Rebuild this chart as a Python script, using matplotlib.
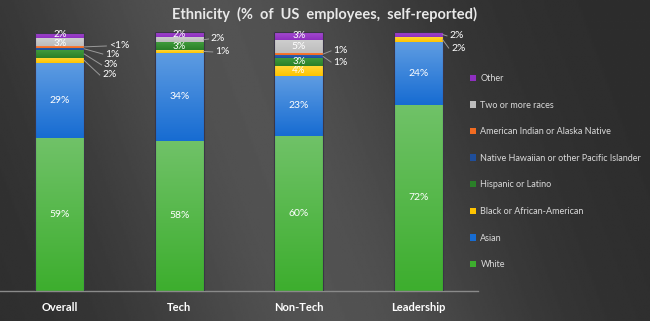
import numpy as np
import matplotlib
matplotlib.use("Agg")
import matplotlib.pyplot as plt
from matplotlib.colors import LinearSegmentedColormap
from matplotlib.patches import Rectangle

plt.rcParams['font.family'] = ['Lato', 'DejaVu Sans']

# ---------------- data ----------------
categories = ["Overall", "Tech", "Non-Tech", "Leadership"]
series_names = ["White", "Asian", "Black or African-American", "Hispanic or Latino",
                "Native Hawaiian or other Pacific Islander",
                "American Indian or Alaska Native", "Two or more races", "Other"]
white    = [59, 58, 60, 72]
asian    = [29, 34, 23, 24]
black    = [2, 1, 4, 2]
hispanic = [3, 3, 3, 0]
nhpi     = [1, 0, 1, 0]
aian     = [0.5, 0, 1, 0]
two_more = [3, 2, 5, 0]
other    = [2, 2, 3, 2]
series = [white, asian, black, hispanic, nhpi, aian, two_more, other]

# (base colour, lighter top colour) per series
colors = [("#3DAE2E", "#70C268"), ("#176CD2", "#5E9CE2"), ("#FFC400", "#FFD83A"),
          ("#2A7F28", "#3F9A3C"), ("#1F4E9A", "#2C5FAE"), ("#F26B21", "#F58040"),
          ("#BDBDBD", "#CDCDCD"), ("#8E2FC0", "#A54BD0")]

def fmt(v):
    return "<1%" if v < 1 else f"{v:g}%"

# labels drawn inside segments: (category index, series index, small y nudge)
inside = [(0, 0, 0), (0, 1, 0), (0, 6, -0.6), (0, 7, 0.6),
          (1, 0, 0), (1, 1, 0), (1, 3, 0), (1, 7, 0),
          (2, 0, 0), (2, 1, 0), (2, 2, 0), (2, 3, 0), (2, 6, 0), (2, 7, 0),
          (3, 0, 0), (3, 1, 0)]
# labels drawn outside with leader line: (category, series, text x offset, text y)
outside = [(0, 5, 0.41, 94.6), (0, 4, 0.38, 91.5), (0, 3, 0.37, 87.3), (0, 2, 0.355, 83.4),
           (1, 6, 0.265, 97.3), (1, 2, 0.30, 92.3),
           (2, 5, 0.29, 92.7), (2, 4, 0.29, 88.4),
           (3, 7, 0.26, 98.5), (3, 2, 0.275, 93.8)]

# ---------------- figure ----------------
W, H = 650, 321
fig = plt.figure(figsize=(W / 100, H / 100), dpi=100)
fig.patch.set_facecolor("#333333")

# background gradient
bg = fig.add_axes([0, 0, 1, 1], zorder=-10)
xx, yy = np.meshgrid(np.linspace(0, 1, 400), np.linspace(0, 1, 200))
u = xx + 0.18 * (yy - 0.5)
val = 0.175 + 0.15 * np.exp(-((u - 0.42) / 0.30) ** 2)
bg.imshow(val, cmap="gray", vmin=0, vmax=1, aspect="auto", extent=[0, 1, 0, 1],
          origin="lower", interpolation="bilinear")
bg.axis("off")

ax = fig.add_axes([0, 30 / H, 478 / W, 259 / H], zorder=1)
ax.set_facecolor("none")

x = np.arange(len(categories))
width = 0.41
bottom = np.zeros(len(categories))
bottoms = []
patches_all = []
for s, vals in enumerate(series):
    vals = np.array(vals, dtype=float)
    bars = ax.bar(x, vals, width, bottom=bottom, color=colors[s][0], linewidth=0, zorder=2)
    bottoms.append(bottom.copy())
    patches_all.append(bars)
    bottom = bottom + vals

# gradient fill on each segment
grad = np.linspace(0, 1, 64).reshape(-1, 1)
for s, bars in enumerate(patches_all):
    cmap = LinearSegmentedColormap.from_list(f"c{s}", [colors[s][0], colors[s][1]])
    for p in bars:
        if p.get_height() <= 0:
            continue
        x0, y0, w, h = p.get_x(), p.get_y(), p.get_width(), p.get_height()
        im = ax.imshow(grad, extent=[x0, x0 + w, y0, y0 + h], origin="lower",
                       cmap=cmap, aspect="auto", zorder=2.5, interpolation="bilinear")
        im.set_clip_path(p)

# outline of full stacks
ax.bar(x, bottom, width, facecolor="none", edgecolor="#3a3646", linewidth=0.8, zorder=3)

ax.set_xlim(-0.5, 3.5)
ax.set_ylim(0, 100)

# inside labels
for c, s, dy in inside:
    v = series[s][c]
    yc = bottoms[s][c] + v / 2 + dy
    small = v < 5
    ax.text(x[c], yc, fmt(v), ha="center", va="center", color="white",
            fontsize=7 if small else 7.5, zorder=4)

# outside labels with leader lines
for c, s, dx, ty in outside:
    v = series[s][c]
    yc = bottoms[s][c] + v / 2
    ax.plot([x[c] + width / 2, x[c] + dx - 0.02], [yc, ty], color="#9a9a9a",
            lw=0.7, zorder=4, clip_on=False)
    ax.text(x[c] + dx, ty, fmt(v), ha="left", va="center", color="white",
            fontsize=7.5, zorder=4)

# axes styling
for sp in ["top", "left", "right"]:
    ax.spines[sp].set_visible(False)
ax.spines["bottom"].set_color("#8a8a8a")
ax.spines["bottom"].set_linewidth(1.0)
ax.set_yticks([])
ax.set_xticks(x)
ax.set_xticklabels(categories, color="white", fontsize=8, fontweight="bold")
ax.tick_params(axis="x", length=0, pad=8)

# legend
handles = [Rectangle((0, 0), 1, 1, facecolor=colors[s][0], edgecolor="none")
           for s in range(len(series))][::-1]
leg = fig.legend(handles, series_names[::-1], loc="upper left",
                 bbox_to_anchor=(470 / W, 1 - 74 / H), frameon=False, fontsize=6.5,
                 labelcolor="#D9D9D9", handlelength=0.7, handleheight=0.7,
                 handletextpad=0.45, labelspacing=1.95, borderpad=0, borderaxespad=0)

fig.text(0.5, 1 - 14 / H, "Ethnicity  (%  of  US  employees,  self-reported)",
         ha="center", va="center", color="#E8E8E8", fontsize=10.5, fontweight="bold")

fig.savefig("out.png", dpi=100, facecolor=fig.get_facecolor())
